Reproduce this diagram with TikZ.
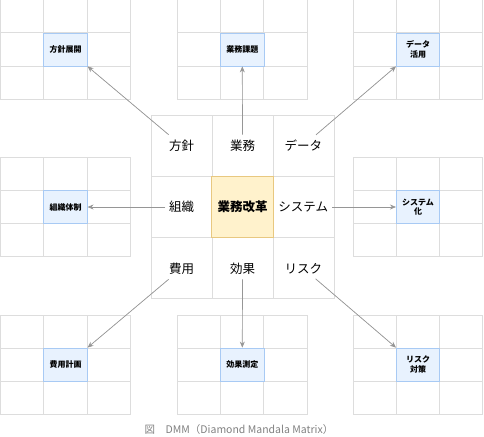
\documentclass[tikz,border=0pt]{standalone}
\usepackage{fontspec}
\newfontfamily\jpfont{Noto Sans CJK JP}
\definecolor{dmmGrid}{RGB}{221,221,221}
\definecolor{dmmBlue}{RGB}{168,202,244}
\definecolor{dmmBlueFill}{RGB}{232,242,254}
\definecolor{dmmGold}{RGB}{232,200,128}
\definecolor{dmmGoldFill}{RGB}{255,242,204}
\definecolor{dmmArrow}{RGB}{150,150,150}
\definecolor{dmmCaption}{RGB}{128,128,128}
\usetikzlibrary{arrows.meta}

\begin{document}
\begin{tikzpicture}[x=1pt, y=-1pt,
    cell/.style={draw=dmmGrid, line width=1pt},
    hub/.style={rectangle, draw=dmmBlue, fill=dmmBlueFill, line width=0.8pt,
                minimum width=43.3pt, minimum height=33pt, inner sep=0pt,
                align=center, font=\jpfont\fontsize{8}{9.5}\selectfont\bfseries},
    core/.style={rectangle, draw=dmmGold, fill=dmmGoldFill, line width=0.8pt,
                 minimum size=61.3pt, inner sep=0pt,
                 font=\jpfont\fontsize{12.5}{14}\selectfont\bfseries},
    word/.style={inner xsep=4pt, inner ysep=5pt,
                 font=\jpfont\fontsize{12.5}{14}\selectfont},
    arr/.style={draw=dmmArrow, line width=0.7pt,
                -{Stealth[length=6pt, width=5pt]}, fill=dmmArrow},
    caption/.style={font=\jpfont\fontsize{10.5}{12}\selectfont, text=dmmCaption}
  ]
  \useasboundingbox (0,0) rectangle (484,436);
  \def\cw{43.33}
  \def\ch{33}
  \def\cc{61.33}

  \foreach \nm/\cx/\cy/\txt in {hubPlan/65.5/49.5/方針展開, hubTask/242.3/49.5/業務課題,
      hubData/418/49.5/{データ\\活用}, hubOrg/65.5/207/組織体制, hubSys/418/207/{システム\\化},
      hubCost/65.5/364.5/費用計画, hubEffect/242.3/364.5/効果測定, hubRisk/418/364.5/{リスク\\対策}} {
    \foreach \i in {0,1,2}
      \foreach \j in {0,1,2}
        \draw[cell] (\cx-65+\i*\cw, \cy-49.5+\j*\ch) rectangle ++(\cw,\ch);
    \node[hub] (\nm) at (\cx,\cy) {\txt};
  }

  \foreach \i in {0,1,2}
    \foreach \j in {0,1,2}
      \draw[cell] (151+\i*\cc, 115+\j*\cc) rectangle ++(\cc,\cc);
  \node[core] (core) at (242.5,207) {業務改革};

  \node[word] (wPlan)   at (181.7,145.7) {方針};
  \node[word] (wTask)   at (242.5,145.7) {業務};
  \node[word] (wData)   at (303.3,145.7) {データ};
  \node[word] (wOrg)    at (181.7,207)   {組織};
  \node[word] (wSys)    at (303.3,207)   {システム};
  \node[word] (wCost)   at (181.7,268.3) {費用};
  \node[word] (wEffect) at (242.5,268.3) {効果};
  \node[word] (wRisk)   at (303.3,268.3) {リスク};

  \draw[arr] (wPlan)   -- (hubPlan.south east);
  \draw[arr] (wTask)   -- (hubTask.south);
  \draw[arr] (wData)   -- (hubData.south west);
  \draw[arr] (wOrg)    -- (hubOrg.east);
  \draw[arr] (wSys)    -- (hubSys.west);
  \draw[arr] (wCost)   -- (hubCost.north east);
  \draw[arr] (wEffect) -- (hubEffect.north);
  \draw[arr] (wRisk)   -- (hubRisk.north west);

  \node[caption] (cap) at (239,430) {図　DMM（Diamond Mandala Matrix）};
\end{tikzpicture}
\end{document}
